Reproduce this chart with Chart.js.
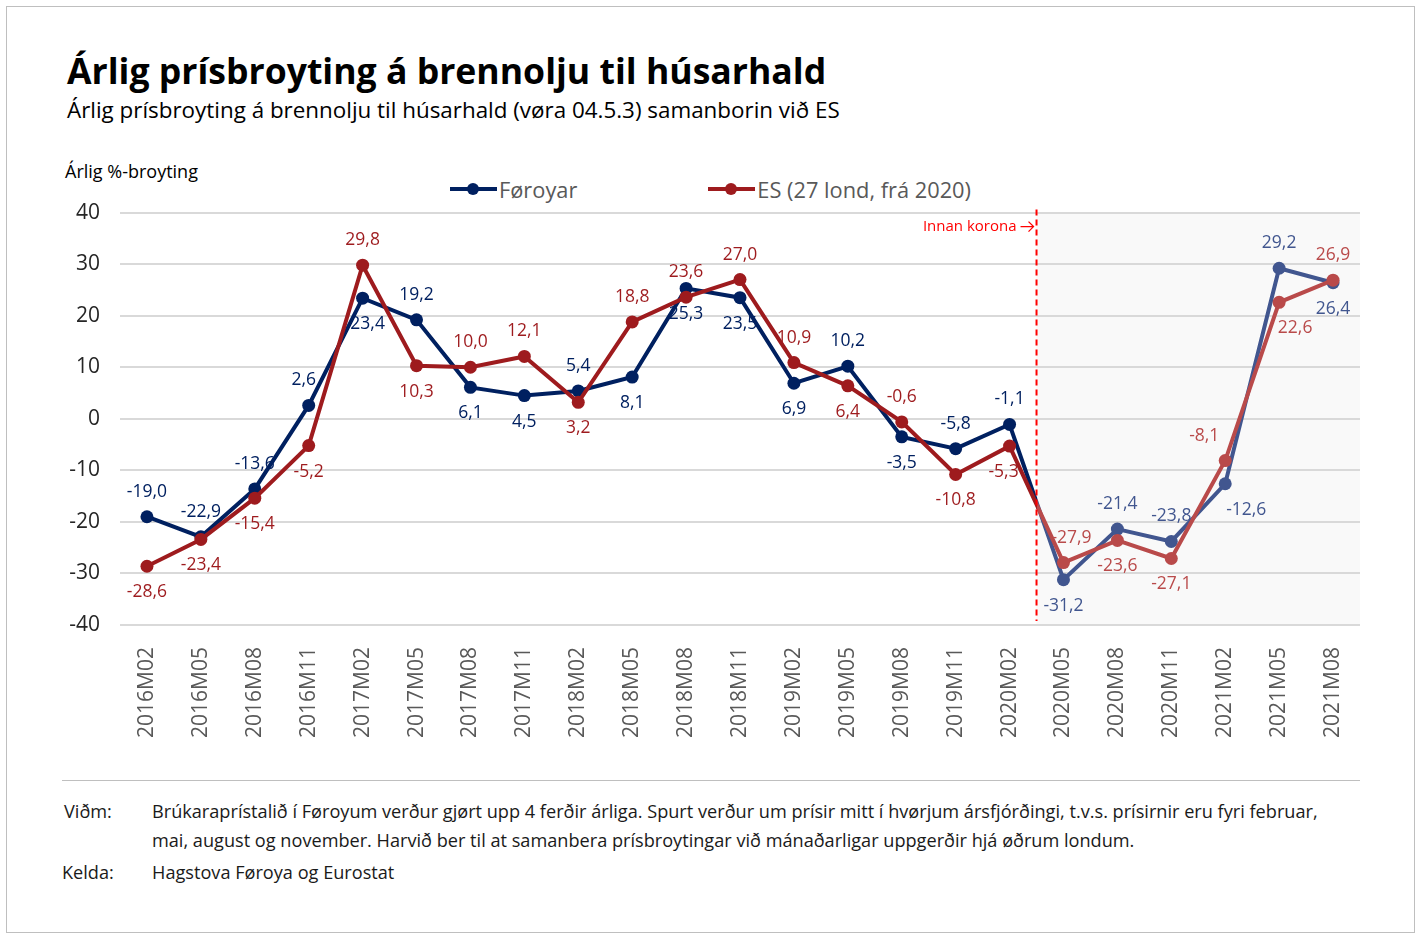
<!DOCTYPE html>
<html>
<head>
<meta charset="utf-8">
<script src="https://cdn.jsdelivr.net/npm/chart.js@4.4.1/dist/chart.umd.min.js"></script>
<style>
  body { margin: 0; background: #fff; font-family: "Open Sans", sans-serif; }
  #frame { position: absolute; left: 6px; top: 6px; width: 1409px; height: 927px; box-sizing: border-box; border: 1px solid #bfbfbf; }
  .txt { position: absolute; white-space: nowrap; line-height: 1; }
  #title { left: 67px; top: 53px; font-size: 35.6px; font-weight: bold; color: #000; }
  #subtitle { left: 67px; top: 99px; font-size: 22.4px; color: #000; }
  #ytitle { left: 65px; top: 162px; font-size: 18px; color: #000; }
  #legend { position: absolute; left: 450px; top: 177px; height: 24px; display: flex; align-items: center; font-size: 21.8px; color: #595959; }
  .item { display: flex; align-items: center; }
  .mk { position: relative; width: 47px; height: 4px; margin-right: 2px; }
  .mk span { position: absolute; left: 17px; top: -4px; width: 12px; height: 12px; border-radius: 50%; }
  #rule { position: absolute; left: 62px; top: 780px; width: 1298px; height: 1px; background: #bfbfbf; }
  .foot { position: absolute; font-size: 18.15px; color: #1a1a1a; line-height: 1; white-space: nowrap; }
  #wrap { position: absolute; left: 0; top: 180px; width: 1419px; height: 575px; }
</style>
</head>
<body>
<div id="frame"></div>
<div class="txt" id="title">Árlig prísbroyting á brennolju til húsarhald</div>
<div class="txt" id="subtitle">Árlig prísbroyting á brennolju til húsarhald (vøra 04.5.3) samanborin við ES</div>
<div class="txt" id="ytitle">Árlig %-broyting</div>
<div id="legend">
  <div class="item"><div class="mk" style="background:#002060"><span style="background:#002060"></span></div>Føroyar</div>
  <div class="item" style="margin-left:131px"><div class="mk" style="background:#9e1b1e"><span style="background:#9e1b1e"></span></div>ES (27 lond, frá 2020)</div>
</div>
<div id="wrap"><canvas id="chart"></canvas></div>
<div id="rule"></div>
<div class="foot" style="left:64px; top:802px">Viðm:</div>
<div class="foot" style="left:152px; top:802px">Brúkaraprístalið í Føroyum verður gjørt upp 4 ferðir árliga. Spurt verður um prísir mitt í hvørjum ársfjórðingi, t.v.s. prísirnir eru fyri februar,</div>
<div class="foot" style="left:152px; top:831px">mai, august og november. Harvið ber til at samanbera prísbroytingar við mánaðarligar uppgerðir hjá øðrum londum.</div>
<div class="foot" style="left:62px; top:863px">Kelda:</div>
<div class="foot" style="left:152px; top:863px">Hagstova Føroya og Eurostat</div>

<script>
var categories = ["2016M02", "2016M05", "2016M08", "2016M11", "2017M02", "2017M05", "2017M08", "2017M11",
  "2018M02", "2018M05", "2018M08", "2018M11", "2019M02", "2019M05", "2019M08", "2019M11",
  "2020M02", "2020M05", "2020M08", "2020M11", "2021M02", "2021M05", "2021M08"];
var foroyar = [-19.0, -22.9, -13.6, 2.6, 23.4, 19.2, 6.1, 4.5, 5.4, 8.1, 25.3, 23.5, 6.9, 10.2, -3.5, -5.8, -1.1,
  -31.2, -21.4, -23.8, -12.6, 29.2, 26.4];
var es = [-28.6, -23.4, -15.4, -5.2, 29.8, 10.3, 10.0, 12.1, 3.2, 18.8, 23.6, 27.0, 10.9, 6.4, -0.6, -10.8, -5.3,
  -27.9, -23.6, -27.1, -8.1, 22.6, 26.9];
var yTicks = [-40, -30, -20, -10, 0, 10, 20, 30, 40];
var coronaStart = "2020M05";   // first period inside korona
var flipLabels = ["2018M08"];  // labels placed against the usual rule
// sideways nudges for a few labels that would sit on a line
var labelNudge = { "0:2016M11": -5, "0:2017M02": 5, "1:2020M02": -6, "1:2020M05": 8,
  "0:2021M02": 21, "1:2021M02": -21, "1:2021M05": 16 };

var firstCorona = categories.indexOf(coronaStart);
var cutValue = firstCorona - 0.5;

var colF = { pre: "#002060", post: "#41568f" };
var colE = { pre: "#9e1b1e", post: "#b94a4a" };

function splitColor(cols) {
  return function (c) {
    var chart = c.chart, area = chart.chartArea;
    if (!area) return cols.pre;
    var x = chart.scales.x.getPixelForValue(cutValue);
    var f = Math.min(Math.max((x - area.left) / (area.right - area.left), 0), 1);
    var g = chart.ctx.createLinearGradient(area.left, 0, area.right, 0);
    g.addColorStop(0, cols.pre);
    g.addColorStop(f, cols.pre);
    g.addColorStop(f, cols.post);
    g.addColorStop(1, cols.post);
    return g;
  };
}
function pointColor(cols) {
  return function (c) { return c.dataIndex >= firstCorona ? cols.post : cols.pre; };
}
function fmt(v) { return v.toFixed(1).replace(".", ","); }

var coronaPlugin = {
  id: "corona",
  beforeDraw: function (chart) {
    var ctx = chart.ctx, a = chart.chartArea;
    var x = chart.scales.x.getPixelForValue(cutValue);
    ctx.save();
    ctx.fillStyle = "#f9f9f9";
    ctx.fillRect(x, a.top, a.right - x, a.bottom - a.top);
    ctx.restore();
  },
  afterDatasetsDraw: function (chart) {
    var ctx = chart.ctx, a = chart.chartArea;
    var x = chart.scales.x.getPixelForValue(cutValue);
    ctx.save();
    ctx.strokeStyle = "#ff0000";
    ctx.lineWidth = 2;
    ctx.setLineDash([6, 4]);
    ctx.beginPath();
    ctx.moveTo(x, a.top - 3);
    ctx.lineTo(x, a.bottom - 4);
    ctx.stroke();
    ctx.setLineDash([]);
    // note + arrow
    var ty = a.top + 14;
    ctx.fillStyle = "#ff0000";
    ctx.font = "15px 'Open Sans'";
    ctx.textAlign = "right";
    ctx.textBaseline = "middle";
    ctx.fillText("Innan korona", x - 20, ty);
    ctx.lineWidth = 1.3;
    ctx.beginPath();
    ctx.moveTo(x - 16, ty);
    ctx.lineTo(x - 3, ty);
    ctx.moveTo(x - 8, ty - 5);
    ctx.lineTo(x - 3, ty);
    ctx.lineTo(x - 8, ty + 5);
    ctx.stroke();

    // data labels
    var sets = [foroyar, es];
    var cols = [colF, colE];
    ctx.font = "17.5px 'Open Sans'";
    ctx.textAlign = "center";
    for (var d = 0; d < 2; d++) {
      var meta = chart.getDatasetMeta(d);
      var own = sets[d], other = sets[1 - d];
      meta.data.forEach(function (pt, i) {
        var above = own[i] >= other[i];
        if (flipLabels.indexOf(categories[i]) >= 0) above = !above;
        var dx = labelNudge[d + ":" + categories[i]] || 0;
        ctx.fillStyle = i >= firstCorona ? cols[d].post : cols[d].pre;
        ctx.fillText(fmt(own[i]), pt.x + dx, pt.y + (above ? -25 : 26));
      });
    }
    ctx.restore();
  }
};

new Chart(document.getElementById("chart"), {
  type: "line",
  data: {
    labels: categories,
    datasets: [{
      label: "Føroyar",
      data: foroyar,
      order: 1,
      borderColor: splitColor(colF),
      borderWidth: 4,
      pointRadius: 6.5,
      pointBorderWidth: 0,
      pointBackgroundColor: pointColor(colF),
      tension: 0
    }, {
      label: "ES (27 lond, frá 2020)",
      data: es,
      order: 0,
      borderColor: splitColor(colE),
      borderWidth: 4,
      pointRadius: 6.5,
      pointBorderWidth: 0,
      pointBackgroundColor: pointColor(colE),
      tension: 0
    }]
  },
  options: {
    responsive: true,
    maintainAspectRatio: false,
    animation: false,
    layout: { padding: { left: 20, right: 59, top: 16, bottom: 0 } },
    plugins: { legend: { display: false }, tooltip: { enabled: false } },
    scales: {
      x: {
        offset: true,
        grid: { display: false },
        border: { display: false },
        ticks: { minRotation: 90, maxRotation: 90, padding: 14, color: "#595959", font: { family: "Open Sans", size: 21 } },
        afterFit: function (s) { s.height = 130; }
      },
      y: {
        min: yTicks[0],
        max: yTicks[yTicks.length - 1],
        afterBuildTicks: function (s) { s.ticks = yTicks.map(function (v) { return { value: v }; }); },
        grid: { color: "#d9d9d9", lineWidth: 2, drawTicks: false },
        border: { display: false },
        ticks: { padding: 20, color: "#262626", font: { family: "Open Sans", size: 21 } },
        afterFit: function (s) { s.width = 100; }
      }
    }
  },
  plugins: [coronaPlugin]
});
</script>
</body>
</html>
